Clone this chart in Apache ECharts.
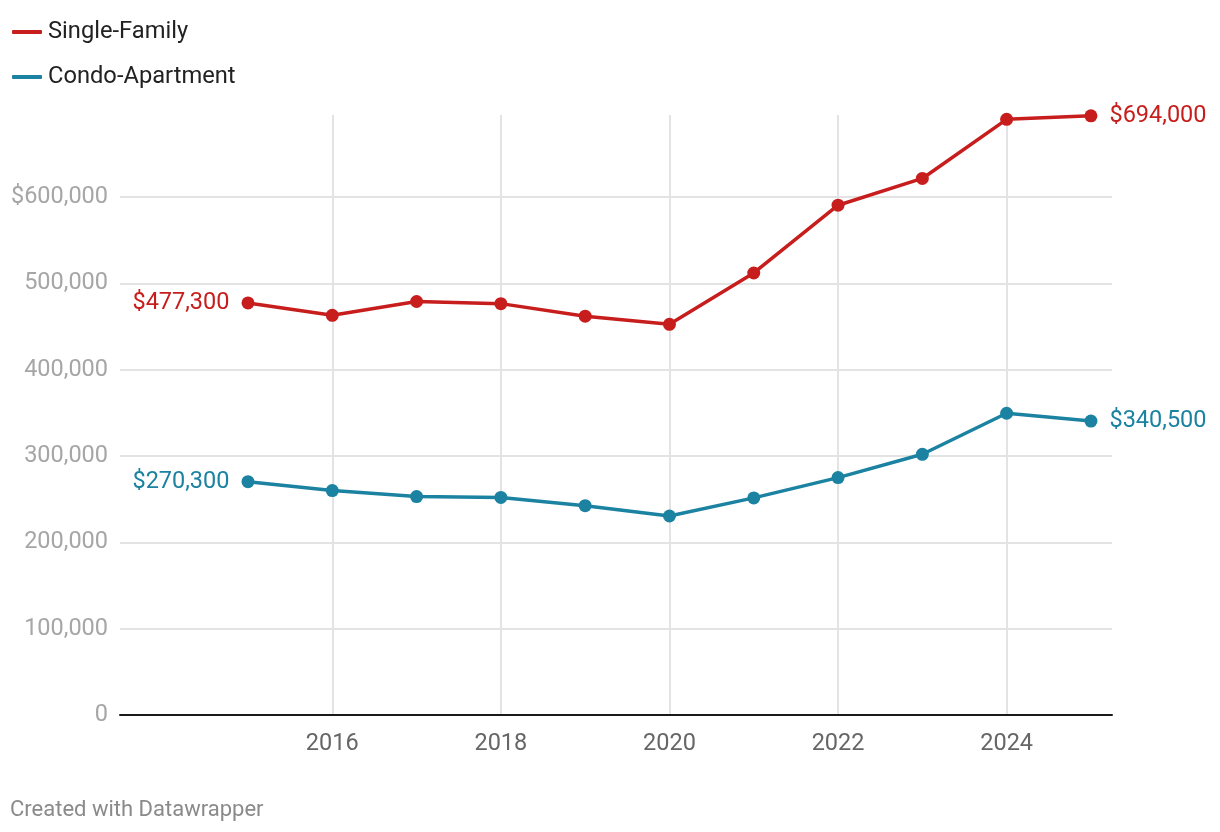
<!DOCTYPE html>
<html><head><meta charset="utf-8">
<script src="https://cdn.jsdelivr.net/npm/echarts@6/dist/echarts.min.js"></script>
<style>html,body{margin:0;padding:0;background:#fff}#c{width:1220px;height:832px}</style>
</head><body><div id="c"></div>
<script>
var years = [2015, 2016, 2017, 2018, 2019, 2020, 2021, 2022, 2023, 2024, 2025];
var singleFamily = [477300, 463000, 479000, 476500, 462000, 452500, 512000, 590500, 621500, 690000, 694000];
var condo = [270300, 260000, 253000, 252000, 242500, 230500, 251500, 275000, 302000, 349500, 340500];
var seriesNames = ['Single-Family', 'Condo-Apartment'];
var yTicks = [0, 100000, 200000, 300000, 400000, 500000, 600000];

var RED = '#c71e1d', BLUE = '#1b83a1';
var FONT = 'Roboto';
var FS = 23.5;
function money(v){ return '$' + v.toLocaleString('en-US'); }
function pts(vals){ return years.map(function(y,i){ return [y, vals[i]]; }); }
function withLabels(vals, color){
  var d = pts(vals);
  var n = d.length;
  return d.map(function(p,i){
    if (i === 0) return {value:p, label:{show:true, position:'left', distance:12, formatter: money(p[1]), color:color, fontSize:FS, fontFamily:FONT}};
    if (i === n-1) return {value:p, label:{show:true, position:'right', distance:12, formatter: money(p[1]), color:color, fontSize:FS, fontFamily:FONT}};
    return {value:p};
  });
}
var YMAX = 695000;
var chart = echarts.init(document.getElementById('c'), null, {renderer:'canvas'});
var gridLine = ['#e3e3e3','#e3e3e3','#e3e3e3','#e3e3e3','#e3e3e3','#e3e3e3','#e3e3e3','rgba(0,0,0,0)'];
chart.setOption({
  animation:false,
  backgroundColor:'#fff',
  title:{text:'Created with Datawrapper', left:5, top:794, textStyle:{fontFamily:FONT, fontSize:22, fontWeight:'normal', color:'#8a8a8a'}},
  legend:{
    orient:'vertical', left:7, top:13, itemGap:17, itemWidth:30, itemHeight:4, icon:'roundRect',
    data:seriesNames,
    textStyle:{fontFamily:FONT, fontSize:23.7, color:'#222', lineHeight:28, padding:[0,0,0,1]}
  },
  grid:[
    {left:120, right:108, top:115, bottom:117},
    {left:163.7, right:108, top:115, bottom:117}
  ],
  xAxis:[
    {gridIndex:0, type:'value', min:0, max:1, axisLine:{show:true, onZero:true, lineStyle:{color:'#1a1a1a', width:2}}, axisTick:{show:false}, axisLabel:{show:false}, splitLine:{show:false}, z:5},
    {gridIndex:1, type:'value', min:2014, max:2025.25, interval:2,
     axisLine:{show:false}, axisTick:{show:false},
     axisLabel:{showMinLabel:false, showMaxLabel:false, margin:17, color:'#666', fontSize:FS, fontFamily:FONT,
       formatter:function(v){ return (v % 2 === 0 && v > 2014) ? String(v) : ''; }},
     splitLine:{show:true, lineStyle:{color:['rgba(0,0,0,0)','#e3e3e3','#e3e3e3','#e3e3e3','#e3e3e3','#e3e3e3','rgba(0,0,0,0)'], width:2}}}
  ],
  yAxis:[
    {gridIndex:0, type:'value', min:0, max:YMAX, interval:100000,
     axisLine:{show:false}, axisTick:{show:false},
     axisLabel:{showMaxLabel:false, margin:12, color:'#a6a6a6', fontSize:FS, fontFamily:FONT,
       formatter:function(v){ if (yTicks.indexOf(v) < 0) return ''; var s = v.toLocaleString('en-US'); return v === 600000 ? '$'+s : s; }},
     splitLine:{show:true, lineStyle:{color:gridLine, width:2}}},
    {gridIndex:1, type:'value', min:0, max:YMAX, show:false, splitLine:{show:false}}
  ],
  series:[
    {name:seriesNames[0], type:'line', xAxisIndex:1, yAxisIndex:1, data:withLabels(singleFamily, RED),
     color:RED, lineStyle:{width:3.5, color:RED}, symbol:'circle', symbolSize:13, itemStyle:{color:RED}, z:10},
    {name:seriesNames[1], type:'line', xAxisIndex:1, yAxisIndex:1, data:withLabels(condo, BLUE),
     color:BLUE, lineStyle:{width:3.5, color:BLUE}, symbol:'circle', symbolSize:13, itemStyle:{color:BLUE}, z:10}
  ]
});
</script></body></html>
